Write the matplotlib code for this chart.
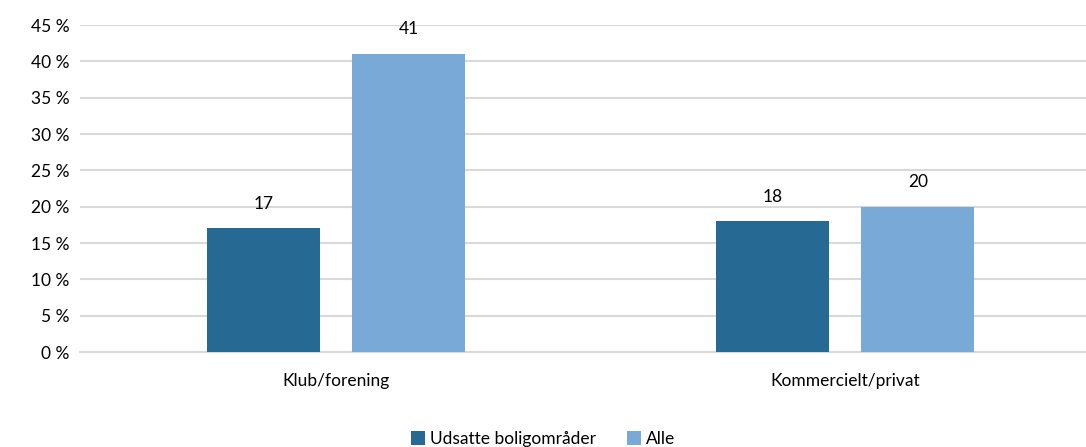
import matplotlib.pyplot as plt
import numpy as np

plt.rcParams['font.family'] = ['Lato', 'DejaVu Sans']

categories = ['Klub/forening', 'Kommercielt/privat']
series_names = ['Udsatte boligområder', 'Alle']
udsatte = [17, 18]
alle = [41, 20]
colors = ['#266992', '#78A9D7']

fig = plt.figure(figsize=(10.86, 4.47), dpi=100)
ax = fig.add_axes([0.074, 0.2125, 0.926, 0.7315])

x = np.arange(len(categories))
w = 0.222
off = 0.1425
for vals, dx, col, name in [(udsatte, -off, colors[0], series_names[0]),
                            (alle, off, colors[1], series_names[1])]:
    bars = ax.bar(x + dx, vals, width=w, color=col, label=name, zorder=3)
    for b, v in zip(bars, vals):
        ax.annotate(f'{v}', (b.get_x() + b.get_width() / 2, v),
                    xytext=(0, 12), textcoords='offset points',
                    ha='center', va='bottom', fontsize=12.5, color='#000000')

ax.set_xlim(-0.503, 1.473)
ax.set_ylim(0, 45)
ax.set_yticks(range(0, 46, 5))
ax.set_yticklabels([f'{t} %' for t in range(0, 46, 5)], fontsize=12.5)
ax.set_xticks(x)
ax.set_xticklabels(categories, fontsize=12.5)
ax.tick_params(axis='both', length=0, pad=8, colors='#000000')
ax.tick_params(axis='x', pad=15)
ax.grid(axis='y', color='#D9D9D9', linewidth=1.5, zorder=0)
for s in ['top', 'right', 'left']:
    ax.spines[s].set_visible(False)
ax.spines['bottom'].set_color('#D9D9D9')
ax.spines['bottom'].set_linewidth(1.5)

fig.legend(loc='lower center', bbox_to_anchor=(0.5, -0.035), ncol=2, frameon=False,
           fontsize=12.5, handlelength=0.8, handleheight=0.8, handletextpad=0.3,
           columnspacing=1.8)

fig.savefig('out.png', dpi=100)
